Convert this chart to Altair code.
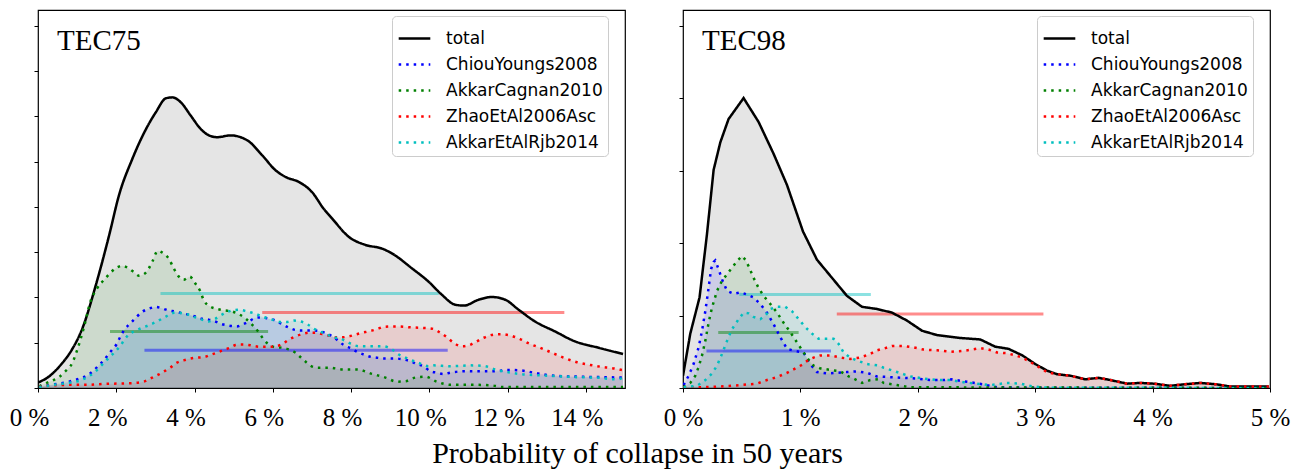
import altair as alt
import pandas as pd

SERIES = ["total", "ChiouYoungs2008", "AkkarCagnan2010", "ZhaoEtAl2006Asc", "AkkarEtAlRjb2014"]
COLORS = ["#000000", "#0000ff", "#008000", "#ff0000", "#00bfbf"]
DASHES = [[1, 0], [2.5, 5], [2.5, 5], [2.5, 5], [2.5, 5]]

# ---------------- TEC75 (x in %, y = density) ----------------
L_TOTAL_X = [0, 0.29, 0.59, 0.84, 1.14, 1.48, 1.82, 2.07, 2.41, 2.76, 3.01, 3.27, 3.43, 3.65, 3.90, 4.16, 4.37, 4.58, 4.92, 5.35, 5.73, 6.07, 6.33, 6.67, 7.00, 7.30, 7.52, 7.94, 8.37, 8.79, 9.05, 9.56, 9.98, 10.32, 10.66, 10.88, 11.26, 11.60, 11.94, 12.28, 12.70, 13.21, 13.72, 14.32, 14.95]
L_TOTAL_Y = [0.12, 0.26, 0.52, 0.81, 1.33, 2.28, 3.38, 4.26, 5.06, 5.72, 6.09, 6.40, 6.42, 6.31, 6.02, 5.72, 5.58, 5.54, 5.58, 5.47, 5.14, 4.81, 4.66, 4.55, 4.33, 3.96, 3.74, 3.34, 3.16, 3.08, 2.97, 2.64, 2.35, 2.06, 1.84, 1.82, 1.95, 2.01, 1.95, 1.73, 1.47, 1.25, 1.03, 0.89, 0.75]

L_CY08_X = [0.03, 0.41, 0.79, 0.96, 1.13, 1.30, 1.43, 1.56, 1.68, 1.79, 1.90, 2.01, 2.09, 2.18, 2.30, 2.43, 2.53, 2.66, 2.83, 3.00, 3.17, 3.34, 3.51, 3.68, 3.85, 4.02, 4.19, 4.36, 4.53, 4.70, 4.87, 5.08, 5.22, 5.39, 5.56, 5.71, 5.90, 6.07, 6.24, 6.37, 6.54, 6.71, 6.88, 7.05, 7.22, 7.39, 7.56, 7.69, 7.81, 8.01, 8.15, 8.32, 8.49, 8.66, 8.83, 9.17, 9.34, 9.52, 9.68, 9.85, 10.03, 10.19, 10.36, 10.54, 10.88, 11.30, 11.72, 11.98, 12.32, 12.66, 13.00, 13.43, 13.85, 14.36, 14.95]
L_CY08_Y = [0.04, 0.08, 0.14, 0.18, 0.23, 0.30, 0.39, 0.51, 0.61, 0.73, 0.85, 0.97, 1.11, 1.25, 1.38, 1.49, 1.58, 1.68, 1.75, 1.79, 1.76, 1.71, 1.69, 1.65, 1.62, 1.58, 1.53, 1.51, 1.47, 1.41, 1.38, 1.36, 1.40, 1.47, 1.55, 1.56, 1.53, 1.49, 1.41, 1.35, 1.29, 1.27, 1.27, 1.27, 1.25, 1.20, 1.12, 1.03, 0.95, 0.87, 0.80, 0.74, 0.69, 0.67, 0.65, 0.65, 0.63, 0.59, 0.53, 0.48, 0.37, 0.34, 0.31, 0.34, 0.37, 0.37, 0.37, 0.40, 0.39, 0.34, 0.29, 0.26, 0.25, 0.24, 0.23]

L_AC10_X = [0.03, 0.24, 0.41, 0.55, 0.70, 0.88, 1.02, 1.17, 1.34, 1.51, 1.72, 1.98, 2.15, 2.32, 2.45, 2.58, 2.70, 2.83, 2.92, 3.06, 3.21, 3.34, 3.47, 3.60, 3.72, 3.88, 4.02, 4.15, 4.23, 4.36, 4.66, 4.96, 5.31, 5.47, 5.65, 5.77, 5.90, 6.07, 6.24, 6.41, 6.58, 6.71, 6.84, 6.99, 7.13, 7.43, 7.81, 8.15, 8.54, 8.88, 9.17, 9.39, 9.64, 9.90, 10.19, 10.54, 11.13, 11.56, 11.90, 14.95]
L_AC10_Y = [0.04, 0.12, 0.18, 0.25, 0.37, 0.56, 0.89, 1.33, 1.91, 2.20, 2.42, 2.64, 2.70, 2.64, 2.56, 2.48, 2.51, 2.64, 2.79, 3.03, 2.97, 2.86, 2.64, 2.46, 2.39, 2.46, 2.31, 2.13, 1.95, 1.82, 1.73, 1.69, 1.53, 1.40, 1.22, 1.07, 0.96, 0.90, 0.89, 0.85, 0.78, 0.68, 0.58, 0.48, 0.45, 0.45, 0.41, 0.41, 0.31, 0.23, 0.14, 0.15, 0.23, 0.25, 0.14, 0.07, 0.07, 0.06, 0.02, 0.02]

L_ZH06_X = [0.03, 0.41, 0.83, 1.26, 1.68, 2.11, 2.45, 2.70, 2.92, 3.09, 3.21, 3.38, 3.55, 3.72, 3.89, 4.06, 4.23, 4.40, 4.57, 4.74, 4.91, 5.05, 5.22, 5.39, 5.56, 5.73, 5.90, 6.07, 6.24, 6.41, 6.58, 6.75, 6.92, 7.09, 7.26, 7.43, 7.60, 7.77, 7.94, 8.11, 8.28, 8.45, 8.66, 8.83, 9.01, 9.22, 9.52, 9.77, 10.07, 10.28, 10.45, 10.62, 10.83, 11.00, 11.17, 11.39, 11.64, 11.85, 12.07, 12.32, 12.58, 12.83, 13.13, 13.43, 13.77, 14.11, 14.45, 14.74, 14.95]
L_ZH06_Y = [0.03, 0.06, 0.07, 0.07, 0.09, 0.10, 0.11, 0.14, 0.23, 0.30, 0.36, 0.45, 0.56, 0.61, 0.65, 0.67, 0.68, 0.73, 0.78, 0.84, 0.89, 0.95, 0.96, 0.95, 0.92, 0.91, 0.91, 0.92, 0.97, 1.07, 1.14, 1.19, 1.22, 1.22, 1.19, 1.16, 1.12, 1.12, 1.14, 1.18, 1.22, 1.25, 1.30, 1.35, 1.36, 1.36, 1.34, 1.33, 1.31, 1.22, 1.12, 1.00, 0.92, 0.94, 1.01, 1.11, 1.18, 1.19, 1.16, 1.08, 0.97, 0.89, 0.78, 0.67, 0.57, 0.51, 0.46, 0.43, 0.39]

L_AR14_X = [0.03, 0.41, 0.83, 1.09, 1.30, 1.47, 1.60, 1.72, 1.85, 1.98, 2.11, 2.21, 2.32, 2.45, 2.58, 2.70, 2.87, 3.04, 3.21, 3.38, 3.51, 3.68, 3.85, 4.02, 4.19, 4.36, 4.53, 4.70, 4.87, 5.14, 5.35, 5.52, 5.73, 5.98, 6.20, 6.37, 6.54, 6.71, 6.88, 7.05, 7.22, 7.39, 7.56, 7.73, 7.90, 8.03, 8.24, 8.54, 8.83, 9.05, 9.22, 9.39, 9.56, 9.77, 9.98, 10.11, 10.54, 11.05, 11.43, 11.68, 12.07, 12.41, 12.83, 13.26, 13.77, 14.28, 14.79, 14.95]
L_AR14_Y = [0.02, 0.07, 0.12, 0.17, 0.26, 0.37, 0.48, 0.59, 0.70, 0.81, 0.94, 1.07, 1.18, 1.25, 1.30, 1.34, 1.40, 1.47, 1.55, 1.63, 1.67, 1.65, 1.62, 1.56, 1.51, 1.47, 1.53, 1.62, 1.69, 1.73, 1.69, 1.65, 1.58, 1.51, 1.46, 1.46, 1.49, 1.47, 1.41, 1.31, 1.24, 1.18, 1.12, 1.09, 1.02, 0.96, 0.92, 0.92, 0.92, 0.85, 0.74, 0.67, 0.61, 0.54, 0.48, 0.50, 0.48, 0.50, 0.48, 0.41, 0.34, 0.30, 0.28, 0.26, 0.24, 0.23, 0.19, 0.23]

# mean +/- spread bars (TEC75)
L_BAR_SERIES = ["AkkarEtAlRjb2014", "ZhaoEtAl2006Asc", "AkkarCagnan2010", "ChiouYoungs2008"]
L_BAR_START = [3.13, 5.73, 1.84, 2.72]
L_BAR_END = [10.24, 13.45, 5.88, 10.47]
L_BAR_Y = [2.09, 1.67, 1.25, 0.835]

# ---------------- TEC98 ----------------
R_TOTAL_X = [0, 0.062, 0.141, 0.204, 0.261, 0.318, 0.388, 0.516, 0.644, 0.772, 0.886, 1.022, 1.141, 1.269, 1.397, 1.525, 1.652, 1.780, 1.908, 2.036, 2.164, 2.362, 2.532, 2.660, 2.773, 2.890, 3.001, 3.100, 3.186, 3.299, 3.427, 3.540, 3.640, 3.782, 3.895, 4.009, 4.151, 4.264, 4.406, 4.549, 4.662, 4.99]
R_TOTAL_Y = [0.17, 0.75, 1.25, 2.12, 3.01, 3.39, 3.71, 4.00, 3.67, 3.23, 2.80, 2.16, 1.77, 1.52, 1.27, 1.12, 1.09, 1.04, 0.93, 0.79, 0.73, 0.69, 0.67, 0.57, 0.54, 0.45, 0.33, 0.24, 0.19, 0.17, 0.12, 0.14, 0.11, 0.06, 0.07, 0.06, 0.03, 0.05, 0.07, 0.05, 0.02, 0.02]

R_CY08_X = [0.005, 0.048, 0.090, 0.133, 0.162, 0.190, 0.218, 0.239, 0.261, 0.275, 0.303, 0.332, 0.375, 0.431, 0.488, 0.545, 0.601, 0.658, 0.715, 0.772, 0.829, 0.886, 0.957, 1.027, 1.084, 1.141, 1.227, 1.312, 1.397, 1.482, 1.567, 1.652, 1.766, 1.879, 1.993, 2.106, 2.220, 2.291, 2.362, 2.447, 2.560, 2.675, 2.873, 4.99]
R_CY08_Y = [0.04, 0.17, 0.33, 0.56, 0.79, 1.06, 1.38, 1.64, 1.74, 1.76, 1.64, 1.50, 1.34, 1.30, 1.32, 1.29, 1.25, 1.16, 1.04, 0.88, 0.70, 0.54, 0.51, 0.49, 0.33, 0.22, 0.20, 0.21, 0.22, 0.23, 0.21, 0.16, 0.15, 0.14, 0.13, 0.11, 0.11, 0.12, 0.10, 0.08, 0.05, 0.01, 0.005, 0.0]

R_AC10_X = [0.005, 0.062, 0.105, 0.133, 0.162, 0.190, 0.218, 0.247, 0.290, 0.332, 0.375, 0.417, 0.460, 0.503, 0.531, 0.559, 0.601, 0.644, 0.687, 0.744, 0.801, 0.857, 0.914, 0.971, 1.027, 1.070, 1.112, 1.170, 1.255, 1.340, 1.411, 1.453, 1.525, 1.595, 1.666, 1.709, 1.823, 1.936, 4.99]
R_AC10_Y = [0.01, 0.07, 0.17, 0.29, 0.45, 0.65, 0.90, 1.11, 1.34, 1.48, 1.57, 1.66, 1.75, 1.82, 1.77, 1.68, 1.52, 1.38, 1.27, 1.16, 1.04, 0.90, 0.77, 0.63, 0.49, 0.39, 0.31, 0.27, 0.25, 0.23, 0.16, 0.13, 0.07, 0.11, 0.12, 0.07, 0.04, 0.01, 0.0]

R_ZH06_X = [0.005, 0.147, 0.318, 0.488, 0.630, 0.715, 0.801, 0.886, 0.957, 1.014, 1.070, 1.112, 1.170, 1.255, 1.340, 1.425, 1.510, 1.595, 1.652, 1.723, 1.780, 1.879, 1.964, 2.049, 2.164, 2.277, 2.376, 2.462, 2.532, 2.603, 2.675, 2.760, 2.830, 2.888, 2.958, 3.029, 3.100, 3.186, 3.299, 3.427, 3.540, 3.640, 3.782, 3.895, 4.009, 4.151, 4.264, 4.406, 4.549, 4.662, 4.99]
R_ZH06_Y = [0.01, 0.01, 0.02, 0.04, 0.06, 0.11, 0.15, 0.21, 0.27, 0.32, 0.39, 0.42, 0.45, 0.45, 0.42, 0.40, 0.42, 0.47, 0.52, 0.55, 0.58, 0.58, 0.56, 0.53, 0.52, 0.50, 0.51, 0.53, 0.55, 0.53, 0.49, 0.48, 0.45, 0.42, 0.36, 0.29, 0.22, 0.19, 0.17, 0.12, 0.14, 0.11, 0.06, 0.07, 0.06, 0.03, 0.05, 0.07, 0.05, 0.02, 0.02]

R_AR14_X = [0.005, 0.119, 0.190, 0.247, 0.290, 0.332, 0.375, 0.417, 0.474, 0.516, 0.559, 0.601, 0.658, 0.701, 0.744, 0.801, 0.871, 0.928, 0.985, 1.042, 1.099, 1.155, 1.227, 1.283, 1.325, 1.368, 1.425, 1.482, 1.567, 1.666, 1.709, 1.823, 1.936, 2.049, 2.164, 2.277, 2.390, 2.504, 2.618, 2.760, 2.873, 2.986, 3.100, 4.99]
R_AR14_Y = [0.01, 0.03, 0.11, 0.20, 0.31, 0.47, 0.65, 0.81, 0.95, 1.04, 1.03, 0.98, 0.95, 1.00, 1.09, 1.12, 1.12, 1.06, 0.95, 0.84, 0.75, 0.68, 0.68, 0.68, 0.61, 0.49, 0.42, 0.38, 0.33, 0.31, 0.28, 0.22, 0.16, 0.13, 0.11, 0.11, 0.08, 0.06, 0.04, 0.07, 0.06, 0.02, 0.005, 0.0]

R_BAR_SERIES = ["AkkarEtAlRjb2014", "ZhaoEtAl2006Asc", "AkkarCagnan2010", "ChiouYoungs2008"]
R_BAR_START = [0.48, 1.31, 0.30, 0.20]
R_BAR_END = [1.60, 3.07, 0.985, 1.26]
R_BAR_Y = [1.29, 1.02, 0.767, 0.51]

L_XTICKS = [0, 2, 4, 6, 8, 10, 12, 14]
L_YTICKS = [0, 1, 2, 3, 4, 5, 6, 7, 8]
R_XTICKS = [0, 1, 2, 3, 4, 5]
R_YTICKS = [0, 1, 2, 3, 4, 5]


def curves_df(pairs):
    rows = []
    for name, xs, ys in pairs:
        for x, y in zip(xs, ys):
            rows.append({"series": name, "x": x, "y": y})
    return pd.DataFrame(rows)


left_df = curves_df([
    ("total", L_TOTAL_X, L_TOTAL_Y),
    ("ChiouYoungs2008", L_CY08_X, L_CY08_Y),
    ("AkkarCagnan2010", L_AC10_X, L_AC10_Y),
    ("ZhaoEtAl2006Asc", L_ZH06_X, L_ZH06_Y),
    ("AkkarEtAlRjb2014", L_AR14_X, L_AR14_Y),
])
right_df = curves_df([
    ("total", R_TOTAL_X, R_TOTAL_Y),
    ("ChiouYoungs2008", R_CY08_X, R_CY08_Y),
    ("AkkarCagnan2010", R_AC10_X, R_AC10_Y),
    ("ZhaoEtAl2006Asc", R_ZH06_X, R_ZH06_Y),
    ("AkkarEtAlRjb2014", R_AR14_X, R_AR14_Y),
])
left_bars = pd.DataFrame({"series": L_BAR_SERIES, "x1": L_BAR_START, "x2": L_BAR_END, "y": L_BAR_Y})
right_bars = pd.DataFrame({"series": R_BAR_SERIES, "x1": R_BAR_START, "x2": R_BAR_END, "y": R_BAR_Y})

SERIF = "Liberation Serif"
W, H = 587, 378


def panel(df, bars, title, xmax, ymax, xticks, yticks, label_off, interp):
    xscale = alt.Scale(domain=[0, xmax], nice=False, zero=True)
    yscale = alt.Scale(domain=[0, ymax], nice=False, zero=True)
    xaxis = alt.Axis(values=xticks, labelExpr="datum.value + ' %'", title=None, grid=False,
                     domain=False, ticks=True, tickSize=4, tickColor="black", tickWidth=1,
                     labelFont=SERIF, labelFontSize=25, labelColor="black", labelPadding=13,
                     labelOffset=label_off, labelFlush=False, labelOverlap=False)
    yaxis = alt.Axis(values=yticks, labels=False, title=None, grid=False, domain=False,
                     ticks=True, tickSize=4, tickColor="black", tickWidth=1,
                     minExtent=26, maxExtent=26)
    X = alt.X("x:Q", scale=xscale, axis=xaxis, title=None)
    Y = alt.Y("y:Q", scale=yscale, axis=yaxis, title=None, stack=None)
    leg = alt.Legend(orient="none", legendX=354, legendY=6, title=None,
                     symbolType="stroke", symbolSize=1000, symbolStrokeWidth=2.5,
                     labelFont="DejaVu Sans", labelFontSize=17, labelColor="black",
                     labelOffset=14, rowPadding=0, padding=5, fillColor="white",
                     strokeColor="#cccccc", cornerRadius=4, labelLimit=400)

    # fill scale uses the reversed domain so it is never merged with the line legend
    areas = alt.Chart(df).mark_area(opacity=0.1, interpolate=interp, clip=True).encode(
        x=X, y=Y,
        fill=alt.Fill("series:N", scale=alt.Scale(domain=SERIES[::-1], range=COLORS[::-1]),
                      legend=None),
    )
    lines = alt.Chart(df).mark_line(strokeWidth=2.5, strokeCap="butt", interpolate=interp,
                                     clip=True).encode(
        x=X, y=Y,
        color=alt.Color("series:N", scale=alt.Scale(domain=SERIES, range=COLORS), legend=leg),
        strokeDash=alt.StrokeDash("series:N", scale=alt.Scale(domain=SERIES, range=DASHES), legend=leg),
    )
    rules = alt.Chart(bars).mark_rule(strokeWidth=3, opacity=0.45).encode(
        x=alt.X("x1:Q", scale=xscale, axis=xaxis, title=None),
        x2="x2:Q",
        y=alt.Y("y:Q", scale=yscale, axis=yaxis, title=None),
        stroke=alt.Stroke("series:N", scale=alt.Scale(domain=SERIES[1:], range=COLORS[1:]), legend=None),
    )
    label = alt.Chart(pd.DataFrame({"t": [title]})).mark_text(
        font=SERIF, fontSize=29, align="left", baseline="alphabetic", color="black"
    ).encode(text="t:N", x=alt.value(19), y=alt.value(40))
    return alt.layer(areas, rules, lines, label).properties(
        width=W, height=H, view=alt.ViewBackground(stroke="black", strokeWidth=1.2)
    )


left = panel(left_df, left_bars, "TEC75", 15, 8.35, L_XTICKS, L_YTICKS, -9, "monotone")
right = panel(right_df, right_bars, "TEC98", 5, 5.215, R_XTICKS, R_YTICKS, 0, "linear")

chart = alt.hconcat(left, right, spacing=30).resolve_scale(
    color="independent", strokeDash="independent", fill="independent", stroke="independent"
).resolve_legend(
    color="independent", strokeDash="independent", fill="independent", stroke="independent"
).properties(
    padding={"left": 0, "top": 1, "right": 5, "bottom": 2},
    title=alt.TitleParams(text="Probability of collapse in 50 years", orient="bottom",
                          anchor="middle", font=SERIF, fontSize=30, fontWeight="normal",
                          color="black", offset=8, dx=-12),
).configure_view(stroke="black", strokeWidth=1.2)

chart.save("out.html", embed_options={"renderer": "svg", "actions": False})
